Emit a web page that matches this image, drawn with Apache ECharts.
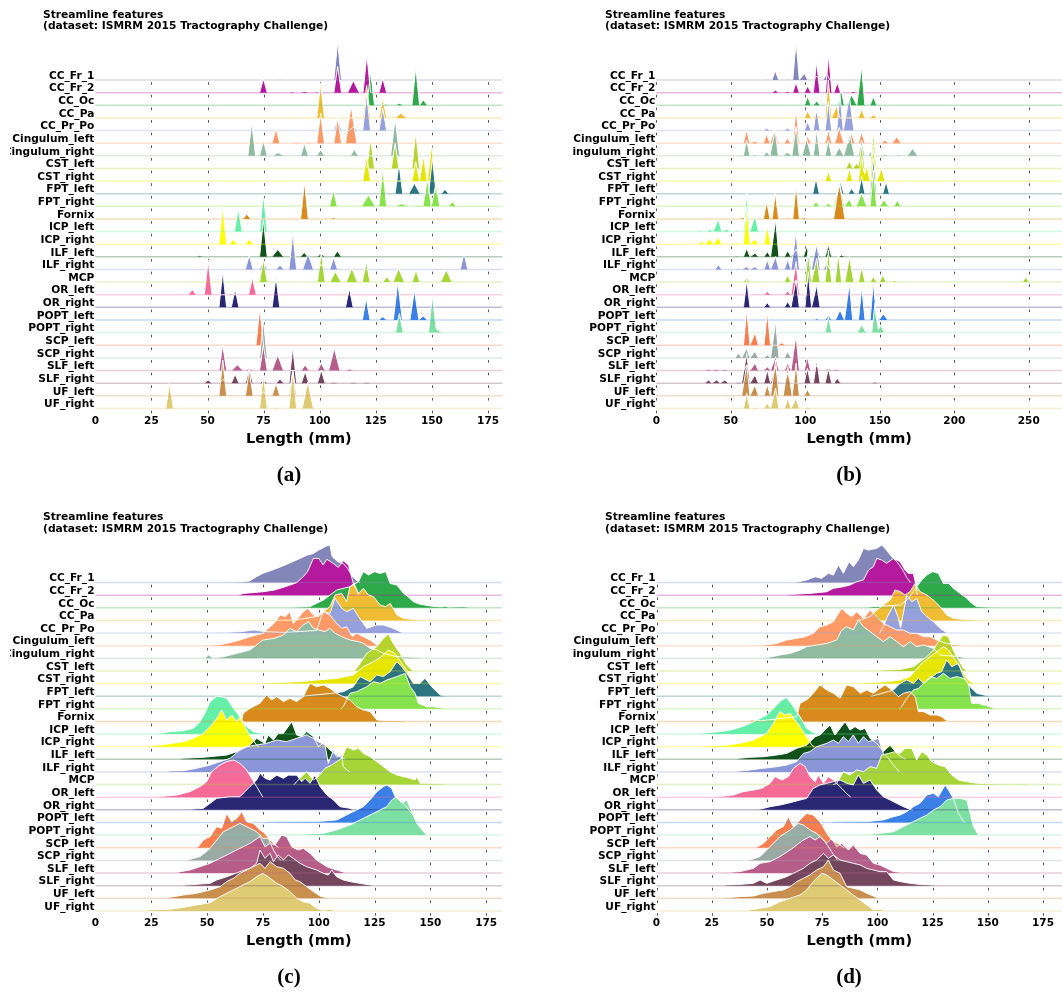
<!DOCTYPE html>
<html><head><meta charset="utf-8">
<script src="https://cdn.jsdelivr.net/npm/echarts@6/dist/echarts.min.js"></script>
<style>
html,body{margin:0;padding:0;background:#fff;width:1062px;height:996px;overflow:hidden}
.p{position:absolute;overflow:hidden}
</style></head><body>
<div id="pa" class="p" style="left:10px;top:0;width:521px;height:500px"></div>
<div id="pb" class="p" style="left:572px;top:0;width:490px;height:500px"></div>
<div id="pc" class="p" style="left:10px;top:502px;width:521px;height:494px"></div>
<div id="pd" class="p" style="left:572px;top:502px;width:490px;height:494px"></div>
<script>
const categories = ['CC_Fr_1','CC_Fr_2','CC_Oc','CC_Pa','CC_Pr_Po','Cingulum_left','Cingulum_right','CST_left','CST_right','FPT_left','FPT_right','Fornix','ICP_left','ICP_right','ILF_left','ILF_right','MCP','OR_left','OR_right','POPT_left','POPT_right','SCP_left','SCP_right','SLF_left','SLF_right','UF_left','UF_right'];
const colors = ['#8286b9','#b5199d','#2eaa4a','#efbc34','#96a0dc','#fd9a68','#8fbba0','#b4d52a','#e6e602','#2b7480','#87e34d','#d98a1d','#66efa8','#ffff00','#10521a','#8a96d8','#a6d537','#f66a97','#292673','#3a80e6','#7de0a2','#f77e4e','#9aaba6','#b65d8a','#74465e','#c98f4f','#decb74'];
const ticksAC = [0,25,50,75,100,125,150,175];
const ticksB = [0,50,100,150,200,250];
const ticksD = [0,25,50,75,100,125,150,175];
const xLabel = 'Length (mm)';
const titleText = 'Streamline features\n(dataset: ISMRM 2015 Tractography Challenge)';

// Panel (a): spike peaks [length mm, height in rows, optional half-width mm]
const peaksA = [
 [[82.3,0.05,2],[108,3.03]],
 [[74.9,1.1],[87.5,0.06,2],[93.2,0.1,2],[98.6,0.05,2],[108,2.06],[115,0.95,2.6],[121,2.98],[128.1,1.13]],
 [[122.7,2.66],[129.1,0.1,1.5],[135.5,0.15,2],[142.8,3.0],[146.2,0.42]],
 [[100.4,2.74],[108,0.05],[120.9,2.6],[128.1,1.56],[136.2,0.37,2.5]],
 [[108,1.05],[115,0.3],[120.9,2.95],[128.1,1.77]],
 [[80.5,1.16],[89.7,0.05,2],[95,0.05,2],[100.4,2.36],[108,2.04],[114,2.94,2.5]],
 [[69.7,2.69],[74.9,1.2],[81.5,0.25,2.5],[93.2,0.98],[100.4,0.5],[115.4,0.5],[133.6,2.96,2]],
 [[122.7,2.37],[133.6,1.98],[142.8,2.9]],
 [[120.9,2.06],[142.8,1.53],[146.2,2.06],[149.9,2.85]],
 [[135.3,2.4],[142.2,0.82,2.5],[150.2,2.8],[155.8,0.34]],
 [[106.1,1.29],[121.7,0.9,3],[128.1,3.0],[136.5,0.2,3],[144,0.1,2],[148,2.2],[151.8,1.8],[159.1,0.37]],
 [[67.5,0.4],[93.2,2.96],[106.1,0.1]],
 [[63.7,1.84],[74.9,2.95]],
 [[56.8,3.0],[61.5,0.39],[68.6,0.39]],
 [[46.5,0.08,2],[74.9,2.91],[81.3,0.58,2.6],[93.1,0.34],[100.6,0.26],[107.9,0.47]],
 [[68.6,1.14],[74.9,0.7],[82.3,0.35],[88,2.9],[94.8,1.28,2.4],[100.7,0.4],[106.2,0.96],[164.3,1.28]],
 [[74.9,1.88],[80.9,0.05],[100.7,2.4],[107,0.82,2.5],[114.3,1.09,2.5],[120.7,1.62],[129.9,0.43],[135.2,1.09,2.5],[142.9,0.96],[156.4,0.96,2.5]],
 [[43.2,0.42],[50.3,2.74],[60.2,0.05],[70,1.37]],
 [[56.8,2.83],[62.3,1.43],[80.5,2.4],[113.2,1.5]],
 [[109.5,0.05,2],[120.7,1.72],[128.1,0.26],[134.8,3.03,2],[142.2,2.37,2],[146.1,0.32]],
 [[135.5,1.53],[150.2,2.98],[152.5,0.4,2]],
 [[73.3,2.92]],
 [[74.9,3.0]],
 [[56.8,2.02],[63.3,0.44,2.5],[68.6,0.17],[74.9,2.02],[81.3,1.23,2.5],[93.5,0.44],[100.7,0.57],[106.5,1.75,2.5],[113.3,0.12]],
 [[50.3,0.25],[56.8,0.3],[62.3,0.7],[68.6,1.17],[74.9,0.25],[82.3,0.33],[88,2.88],[93.5,0.91],[100.7,1.04],[106.2,0.08],[115,0.05],[120.9,0.05]],
 [[56.8,2.83],[68.6,2.04],[74.9,0.33],[80.5,0.98],[88,2.04]],
 [[33.1,1.98],[74.9,2.7],[80.5,0.05],[88,2.95],[94.7,2.1,2.5]]
];

// Panel (b): spike peaks
const peaksB = [
 [[74.1,0.05],[79.9,0.74],[88,0.05],[93.8,3.03],[99.4,0.53],[107.6,0.3],[114.3,0.5]],
 [[79.9,0.2],[88,0.1],[93.8,0.8],[101.6,0.53],[107.6,2.45],[115.7,2.98],[121.5,0.8],[132.2,0.1]],
 [[101.6,0.69],[107.6,0.34],[124,1.27],[131.1,0.82,3.5],[137.8,3.06],[145.7,0.69]],
 [[101.6,0.55],[107.6,0.5],[115.5,3.0],[121,0.95],[137.8,0.69],[145.7,0.24]],
 [[74.1,0.18],[88,0.18],[101.6,0.71],[107.6,1.77],[115.5,2.3],[123.3,2.82],[129.6,2.69,3]],
 [[60.6,1.04],[66.2,0.15],[74.1,0.73],[79.7,1.17],[88,0.38],[93.8,2.76],[101.6,0.57],[115.5,1.04],[122.8,1.25,3],[131.1,0.78],[137.8,0.91],[153.5,0.25],[161.3,0.51,3]],
 [[60.6,1.24],[66.2,0.08],[74.1,0.32],[79.7,2.03],[88,0.26,3],[93.8,2.3],[100.9,1.37,3],[107.6,2.03],[115.5,1.24],[122.8,0.66,3],[130,1.77,3],[137.8,1.24],[144.5,0.45],[153.5,0.1],[162.4,0.08],[172,0.58,3.5]],
 [[129.6,0.6],[134.5,0.4],[137.8,1.85],[145.7,2.9]],
 [[115.5,0.74],[129.6,1.0],[137.8,1.93],[141.2,1.27],[145.7,2.85],[151.3,1.0]],
 [[107.2,1.21],[123.7,0.95],[131.1,0.42],[137.8,1.35],[145.7,2.8],[154.2,0.95]],
 [[107.2,0.37],[115.5,0.24],[122.8,1.95,3.5],[129.6,0.55],[137.8,1.03,3.5],[145.7,2.88],[152.8,0.5,3],[161.8,0.5]],
 [[58,0.1],[74.1,1.37],[79.9,2.03],[88,0.05],[93.8,2.69],[99.1,0.1],[122.8,2.95,3.8]],
 [[29.4,0.05],[36,0.18],[41.7,0.98],[47.3,0.18],[54,0.05],[60.7,3.03],[66.3,1.32]],
 [[30.5,0.2],[36,0.39],[41.7,0.54],[54,0.1],[60.7,2.97],[66.3,0.39],[74.5,1.44]],
 [[54,0.05],[60.7,0.67],[66.3,0.28],[74.5,0.41],[80.1,2.92],[88.2,0.49],[93.8,0.6],[100.9,0.81],[107.7,0.94],[115.5,0.94],[124.4,0.15]],
 [[41.7,0.36],[55.1,0.05],[60.7,0.22],[66.3,0.22],[74.5,0.75],[80.1,1.02],[88.2,0.8],[93.8,3.0],[102,1.54],[107.7,2.2],[114.4,0.49]],
 [[60.7,0.3],[66.3,0.05],[88.2,0.56],[102,2.28],[107.7,1.89],[115.5,2.54],[122.2,2.28],[129.6,2.02,3],[137.9,1.22],[145.7,0.43],[152,0.56],[159.8,0.1],[248,0.4]],
 [[74.5,0.25],[88.2,0.25],[93.8,2.62]],
 [[60.7,2.17],[74.5,0.37],[88.2,0.45],[93.8,2.17],[102,2.82],[107.7,1.77]],
 [[107.7,0.1],[115.5,0.4],[123.3,0.79,3],[129.6,2.9],[137.9,2.64],[145.7,3.0],[152.4,0.48,3]],
 [[115.5,1.27],[129.6,0.05],[137.9,0.61,3],[146.8,2.32],[150.5,0.6,2.5]],
 [[60.7,2.85],[66.3,1.0],[74.5,2.66],[84.2,0.2]],
 [[55.1,0.36],[60.7,0.76],[66.3,0.5],[74.5,0.23],[80.1,2.87],[88.2,0.5]],
 [[35,0.1],[40.5,0.1],[46.1,0.08],[60.7,0.44],[66.3,0.57],[74.5,0.3],[80.1,1.1],[88.2,0.57],[93.8,2.81],[101.4,1.05],[107.7,0.4],[115.5,0.18],[121.1,0.08]],
 [[35,0.25],[40.5,0.25],[46.1,0.25],[55.1,0.05],[60.7,2.36],[66.3,0.65],[74.5,1.04],[80.1,1.3],[88.2,0.8],[101.4,1.18],[107.7,1.84],[115.5,1.18],[121.5,0.39],[146.8,0.1]],
 [[47.3,0.05],[55.1,0.05],[60.7,2.44],[66.3,0.86],[74.5,0.86],[80.1,2.84],[88.2,2.31,3],[93.8,2.57],[101.4,0.51]],
 [[60.7,1.2],[66.3,0.05],[74.5,0.4],[80.1,1.6],[88.2,0.8],[93.8,0.8],[101.4,0.1]]
];

// Panel (c): profiles [length mm, height in rows]
const curvesC = [
 [[55,0],[62,0.03],[66,0.05],[69,0.12],[72,0.45],[75,0.73],[80,1.04],[85,1.39],[90,1.78],[95,2.18],[97.6,2.3],[100,2.57],[103.6,2.9],[105,2.97],[106,2.05],[108.5,1.65],[111,1.5],[113,1.1],[115,0.5],[117,0.15],[118.5,0]],
 [[64,0],[66.2,0.14],[75,0.27],[80,0.4],[85,0.67],[90,0.98],[93.1,1.46],[95,1.86],[97.6,2.91],[100,2.91],[102,2.39],[103.6,2.84],[106.6,2.5],[108.8,2.2],[111,2.73],[113.3,2.39],[115.5,0.93],[117,0.4],[117.8,0]],
 [[86,0],[88.6,0.03],[96,0.09],[99,0.35],[102,0.6],[105,1.0],[108,1.4],[114,1.67],[117.8,2.07],[120,2.86],[122.3,2.6],[125,2.86],[127.5,2.72],[130,2.86],[132,1.93],[135,1.8],[138,1.14],[140,0.88],[142.4,0.48],[145,0.3],[150,0.14],[155,0.06],[156.6,0.14],[158,0.04],[165,0.08],[168,0]],
 [[76,0],[88.6,0.02],[99,0.3],[102,0.69],[105,1.09],[107.3,2.01],[110.3,2.14],[112.5,1.48],[114,2.67],[115.8,2.93],[117.8,2.14],[120,2.54],[122.3,2.01],[124.5,1.88],[127.5,1.22],[130,1.09],[132,1.35],[135,0.43],[138,0.16],[144,0.03],[150,0]],
 [[53,0],[64.7,0.1],[70.7,0.24],[76.7,0.1],[85,0.05],[99,0.2],[102,1.69],[105,1.56],[107.3,2.75],[110.3,1.96],[112.5,1.69],[115.5,1.96],[117.8,1.3],[121.5,0.37],[126,0.64],[129,0.64],[132,0.45],[135,0.24],[137.6,0]],
 [[49,0],[54.3,0.05],[58.8,0.18],[64.7,0.45],[69.2,0.71],[75,0.98],[78.2,1.5],[80,1.77],[82.7,2.43],[85,2.3],[87.1,2.69],[88.6,1.77],[90.1,2.03],[92.4,2.56],[95,2.96],[97.6,2.43],[100,2.3],[102,2.69],[105,2.43],[108,1.77],[110.3,1.37],[112.5,1.5],[115,0.71],[117,0.98],[120,0.71],[123,0.45],[125,0.18],[126.5,0]],
 [[49,0],[50.6,0.26],[52.8,0.02],[57.3,0.13],[63.3,0.39],[69.2,0.66],[75,1.45],[80,1.58],[84.2,1.84],[87.1,2.37],[90.1,2.11],[93.1,2.64],[95.4,2.9],[97.6,2.37],[100,2.24],[102.8,2.11],[105,2.37],[107.3,1.98],[110.3,1.71],[114,1.45],[117.8,1.32],[120,1.19],[123,0.79],[126,0.66],[129,0.39],[135,0.13],[142.4,0.08],[148,0]],
 [[116,0],[117,0.2],[121.5,1.39],[126,1.92],[129,2.58],[131.2,2.92],[133.4,2.18],[136.4,1.39],[139.4,0.47],[141.7,0.07],[143,0]],
 [[75,0],[76.7,0.05],[91.6,0.15],[99,0.28],[108,0.41],[115.5,0.68],[120,1.34],[123,1.6],[126,1.87],[129,2.26],[131.2,2.66],[134.2,2.39],[137.2,1.6],[139.4,1.07],[141.7,0.28],[143,0]],
 [[93,0],[94.6,0.03],[105.8,0.23],[111,0.36],[115.5,0.75],[118.5,1.55],[123,1.15],[126,1.68],[129,1.55],[132,1.94],[135,2.74],[137.2,2.34],[139.4,1.81],[142.4,1.02],[145.4,1.02],[147.6,1.42],[150.6,0.75],[154.3,0.1],[157,0]],
 [[110,0],[111,0.17],[114,1.23],[117,1.36],[121.5,1.75],[124.5,2.15],[127.5,2.02],[130.5,2.28],[135,2.55],[138.7,2.81],[141,1.75],[143.2,1.23],[144.6,0.44],[148.4,0.17],[151.4,0.17],[155.8,0.04],[157,0]],
 [[65.3,0],[66.2,0.64],[69.2,1.04],[73.7,1.44],[76.7,2.1],[78.9,1.7],[81.2,1.96],[84.2,1.57],[87.1,1.83],[90.1,1.57],[93.1,1.96],[96.1,3.02],[99,2.75],[102,2.89],[105,2.62],[108,2.23],[111,1.96],[114,1.7],[117,1.17],[120,0.91],[123,0.78],[126,0.12],[129,0.06],[138,0.04],[140,0]],
 [[27,0],[28.9,0.06],[33.4,0.19],[39.4,0.27],[43.8,0.45],[46.8,0.98],[49,1.64],[51.3,2.56],[54.3,3.0],[56.5,2.96],[58.8,2.83],[61.8,2.04],[64.7,1.38],[67.7,0.59],[70.7,0.19],[73.7,0.06],[75,0]],
 [[23,0],[24.4,0.05],[31.9,0.2],[39.4,0.4],[43.8,0.66],[48.3,1.06],[51.3,1.59],[54.3,2.24],[56.5,2.9],[58.8,2.11],[61,2.51],[63.3,1.98],[64.7,2.37],[67.7,1.32],[69.9,0.66],[72.2,0.13],[73,0]],
 [[38,0],[39.4,0.08],[48.3,0.16],[58.8,0.34],[63.3,0.61],[69.2,1.13],[72.2,1.66],[75.9,1.27],[77.4,1.93],[79.7,1.53],[81.9,2.06],[84.2,2.06],[87.9,2.98],[90.1,1.93],[92.4,1.79],[94.6,2.2],[97.6,1.79],[99.8,1.0],[102,1.27],[105,0.74],[108,0.34],[111,0.08],[112,0]],
 [[32,0],[33.4,0.08],[39.4,0.1],[45.3,0.29],[51.3,0.55],[55.8,0.82],[60.3,1.08],[64.7,1.74],[67.7,2.0],[72.2,2.14],[76.7,2.27],[81.2,2.53],[85.6,2.4],[90.1,2.66],[94.6,2.93],[97.6,2.66],[99.8,2.4],[102.8,2.14],[104.3,0.68],[106.6,1.74],[108,1.21],[110.3,1.34],[111,0.42],[113,0.1],[114,0]],
 [[89,0],[90.1,0.24],[94.6,1.02],[97.6,0.36],[99.8,0.63],[102.8,1.29],[105.8,1.55],[110.3,2.08],[112.5,3.0],[115.5,2.74],[117.8,2.87],[120,2.47],[123,2.21],[126,1.81],[129,1.42],[132,1.02],[135,0.76],[138,0.63],[140.9,0.5],[143.1,0.36],[143.9,0.63],[145.4,0.1],[149.9,0.1],[155.8,0.05],[157,0]],
 [[28,0],[28.9,0.05],[36.4,0.17],[42.3,0.44],[46.8,0.84],[49.8,1.23],[52,2.02],[55.8,2.55],[58.8,2.82],[61.8,2.95],[64.7,2.68],[67.7,2.16],[69.9,1.5],[72.2,0.84],[74,0.3],[75,0]],
 [[40,0],[40.8,0.05],[48.3,0.12],[54.3,0.91],[60.3,1.04],[64.7,1.04],[69.2,1.84],[72.2,2.36],[73.7,2.89],[75.9,2.5],[78.2,2.36],[81.2,2.75],[84.2,2.5],[86.4,2.75],[90.1,2.75],[92.4,2.23],[93.9,2.5],[96.1,2.1],[98.3,2.75],[100.6,1.84],[103.6,1.18],[106.6,0.78],[109.5,0.25],[114,0.12],[115.5,0]],
 [[75,0],[76.7,0.03],[99,0.07],[108,0.2],[111,0.46],[114,0.73],[117,0.99],[120,1.25],[123,1.78],[126,2.44],[129,2.84],[130.5,2.97],[132.7,2.7],[134.2,2.04],[137.9,1.52],[142.4,0.59],[143.9,0.07],[145,0]],
 [[87,0],[88.6,0.02],[102,0.14],[108,0.41],[114,0.8],[118.5,1.2],[123,1.59],[127.5,1.99],[130.5,2.25],[132.7,2.78],[135,3.04],[137.2,2.52],[139.4,2.78],[141.7,1.86],[143.9,0.93],[146.9,0.28],[148.4,0]],
 [[45,0],[46.1,0.08],[48.3,0.61],[51.3,0.88],[54.3,1.67],[56.5,1.54],[58.8,2.72],[61,2.06],[63.3,2.33],[65.5,2.86],[67.7,2.06],[70.7,1.93],[73.7,1.41],[75.9,1.14],[78.2,0.61],[80.4,0.22],[82,0]],
 [[41,0],[42.3,0.08],[46.8,0.3],[50.6,0.82],[54.3,1.61],[57.3,2.27],[61.8,2.67],[64.7,2.93],[67.7,2.67],[72.2,2.27],[75,1.75],[77.4,1.75],[79.7,0.82],[81.5,0.3],[83,0]],
 [[36,0],[37.9,0.1],[42.3,0.24],[46.8,0.5],[51.3,0.77],[55.8,1.16],[60.3,1.56],[64.7,1.96],[69.2,2.35],[73.7,2.88],[75.9,2.08],[78.2,2.35],[80.4,2.22],[83.4,3.0],[85.6,2.88],[87.9,2.08],[90.8,1.82],[93.1,1.96],[96.1,1.56],[99,1.03],[103.6,0.5],[108,0.24],[111.8,0.03],[113,0]],
 [[39,0],[40.8,0.05],[51.3,0.18],[54.3,0.45],[58.8,0.71],[64.7,1.11],[69.2,1.37],[72.2,1.77],[73.7,2.82],[75.9,2.16],[78.2,2.56],[79.7,1.9],[81.9,2.43],[84.2,2.03],[86.4,2.43],[88.6,2.16],[91.6,1.77],[94.6,1.5],[99,1.24],[102,0.98],[104.3,0.84],[105.8,1.24],[108,0.71],[111,0.45],[114,0.32],[118.5,0.18],[123,0.05],[125,0]],
 [[32,0],[33.4,0.08],[39.4,0.26],[45.3,0.39],[51.3,0.66],[55.8,0.92],[58.8,1.32],[61.8,1.58],[64.7,1.98],[67.7,2.24],[70.7,2.5],[73.7,2.77],[75.9,2.37],[78.2,2.9],[81.2,2.5],[84.2,2.37],[87.1,1.98],[89.5,1.45],[91.6,1.32],[94.6,0.92],[97.6,0.53],[100.6,0.18],[103,0.05],[104,0]],
 [[23,0],[24.4,0.08],[33.4,0.13],[39.4,0.28],[45.3,0.47],[51.3,0.65],[55.8,1.13],[60.3,1.53],[64.7,1.92],[69.2,2.32],[72.2,2.71],[75,2.98],[78.2,2.58],[81.2,2.18],[84.2,1.92],[87.1,1.53],[90.1,1.0],[93.1,0.73],[96.1,0.6],[99,0.21],[102,0.02],[105,0.13],[107,0]]
];

// Panel (d): profiles [length mm, height in rows]
const curvesD = [
 [[62,0],[63.5,0.03],[68,0.2],[71.8,0.46],[74.8,0.33],[77.8,0.73],[80.1,0.59],[82.4,1.39],[84.6,0.73],[87.2,1.65],[89.1,1.25],[91.4,1.78],[93.7,2.7],[96,2.57],[99.7,2.7],[102,2.97],[103.5,2.7],[106.5,2.04],[109,1.6],[111.5,1.0],[113.3,0.4],[115,0]],
 [[59,0],[60.5,0.05],[69.5,0.14],[77.1,0.27],[80.1,0.54],[84.6,0.67],[87.6,0.8],[90.7,1.07],[93.7,1.2],[96,1.99],[98.2,2.25],[99.7,2.91],[102,2.78],[104.2,2.52],[107.3,2.91],[110.3,2.65],[112.5,1.99],[114,1.72],[116.3,1.72],[117.5,0.8],[118,0]],
 [[94,0],[95.2,0.03],[98.2,0.09],[110.3,0.22],[113.3,0.6],[116.3,1.27],[117.8,1.67],[120.1,2.2],[122.4,2.59],[125,2.86],[127.6,2.73],[129.9,1.93],[132.2,1.93],[134.4,1.54],[137.5,1.14],[140.5,0.75],[142.7,0.35],[145,0.09],[152.5,0.03],[155,0]],
 [[91,0],[92.2,0.03],[96.7,0.3],[99.7,0.82],[102.7,1.22],[105.8,1.61],[108,2.41],[110.3,2.28],[112.5,2.01],[114.8,2.28],[117.1,2.93],[119.3,2.28],[122.4,2.01],[125.4,1.61],[128.4,1.09],[131.4,0.43],[134.4,0.16],[139,0.08],[143.5,0.03],[145,0]],
 [[101,0],[102.7,0.5],[104.2,1.16],[107.3,2.22],[109.5,1.2],[110.5,0.4],[113.3,3.0],[115.6,2.48],[117.8,2.74],[120.1,1.69],[122.4,1.29],[125.4,0.9],[128.4,0.37],[131.4,0.03],[132,0]],
 [[48,0],[49.1,0.05],[54.4,0.18],[58.9,0.45],[63.5,0.58],[67.3,0.71],[71,0.98],[74,1.5],[77.1,1.64],[80.1,1.9],[82.4,2.56],[83.9,2.96],[86.1,2.56],[88.4,2.3],[90.7,2.69],[93.7,2.16],[96.7,2.82],[99.7,2.3],[102.7,1.77],[105.8,1.5],[108.8,1.24],[111.8,1.24],[114.8,0.98],[117.8,0.98],[120.9,0.71],[123.9,0.71],[126.9,0.45],[131.4,0.18],[136,0.05],[138,0]],
 [[48,0],[49.9,0.05],[55.9,0.26],[60.5,0.39],[65,0.66],[68,0.92],[72.5,1.05],[77.1,1.18],[81.6,1.45],[83.9,2.24],[86.1,2.5],[89.1,2.24],[91.4,3.03],[93.7,2.5],[96.7,2.11],[99.7,1.71],[102.7,1.32],[105.8,1.71],[108.8,1.32],[111.8,0.92],[114.8,1.32],[117.8,0.92],[120.9,1.05],[125.4,0.79],[128.4,0.26],[137.5,0.13],[141,0]],
 [[97,0],[98.2,0.03],[110.3,0.12],[116.3,0.34],[122.4,1.13],[125.4,1.66],[127.6,2.32],[129.9,2.85],[132.2,2.71],[134.4,1.66],[136.7,0.87],[139,0.21],[140.5,0]],
 [[92,0],[93.7,0.05],[104.2,0.15],[110.3,0.28],[114.8,0.55],[119.3,1.46],[123.9,2.13],[126.9,2.52],[129.9,2.92],[132.2,2.66],[135.2,1.87],[138.2,1.07],[140.5,0.41],[142.7,0.07],[144,0]],
 [[97,0],[98.2,0.03],[107.3,0.49],[110.3,1.02],[113.3,1.28],[116.3,1.02],[118.6,1.42],[120.9,1.02],[123.9,1.42],[126.9,1.81],[129.1,1.94],[131.4,2.87],[133.7,2.34],[136.7,2.6],[139,1.55],[142,0.75],[145,0.23],[149.5,0.04],[151,0]],
 [[110,0],[111,0.17],[113.3,0.83],[116.3,1.49],[118.6,1.62],[120.9,2.02],[123.9,2.55],[126.9,2.41],[129.9,2.81],[132.9,2.41],[135.9,2.55],[139,2.41],[141.2,2.02],[142.7,0.44],[145.8,0.44],[148,0.3],[151,0.17],[153,0]],
 [[42,0],[43.1,0.1],[45.4,0.1],[47,0.05],[63.5,0.38],[65,1.44],[68,1.7],[71,2.23],[74,2.89],[77.1,2.49],[80.1,2.23],[83.1,1.83],[86.1,2.89],[89.1,2.75],[92.2,2.23],[95.2,2.49],[98.2,2.23],[101.2,2.62],[103.5,2.89],[106.5,2.49],[109.5,1.96],[111.8,2.23],[114.8,2.36],[117.1,1.96],[118.6,0.78],[120.9,0.78],[123.9,0.51],[126.9,0.51],[129.1,0.38],[131.4,0.06],[132,0]],
 [[18,0],[19.7,0.05],[25.7,0.14],[31.8,0.27],[36.3,0.45],[40.8,0.72],[45.4,1.11],[49.9,1.51],[53.7,2.17],[56.7,2.7],[58.9,2.9],[62,2.17],[65,1.37],[68,0.45],[71,0.11],[73,0]],
 [[21,0],[22.7,0.05],[31.8,0.13],[37.8,0.27],[43.9,0.53],[49.9,1.06],[52.9,1.85],[55.9,2.77],[58.2,2.51],[60.5,2.64],[62.7,2.11],[65,1.59],[68,0.79],[70.3,0.13],[71.5,0]],
 [[36,0],[37.8,0.08],[42.3,0.16],[48.4,0.21],[54.4,0.34],[58.9,0.47],[63.5,0.87],[68,1.13],[71.8,1.79],[74,1.93],[76.3,2.32],[78.6,2.72],[80.8,1.93],[83.1,2.45],[85.4,2.98],[87.6,2.32],[89.9,2.59],[92.2,2.32],[94.4,2.45],[96.7,1.66],[99.7,1.27],[102.7,0.61],[105.8,1.13],[108.8,0.47],[111.8,0.08],[113,0]],
 [[36,0],[37.8,0.08],[42.3,0.16],[48.4,0.29],[54.4,0.42],[58.9,0.55],[63.5,0.82],[66.5,1.47],[69.5,1.61],[72.5,2.0],[77.1,2.27],[80.1,2.53],[82.4,2.27],[84.6,2.79],[86.9,2.4],[89.1,2.93],[91.4,2.27],[93.7,2.79],[96,2.4],[98.2,2.53],[100.5,2.66],[102.7,1.47],[105,1.08],[107.3,0.55],[110,0]],
 [[80,0],[81.6,0.1],[84.6,1.02],[87.6,0.76],[90.7,1.16],[93.7,1.02],[96.7,1.42],[99.7,1.29],[102,2.34],[105,2.47],[108,2.61],[110.3,2.47],[112.5,2.87],[115.6,2.87],[117.8,1.95],[120.1,2.61],[122.4,2.34],[124.6,1.82],[127.6,1.55],[130.7,1.42],[133.7,0.76],[136.7,0.36],[140.5,0.23],[145,0.1],[152.5,0.05],[160,0.03],[166.9,0.05],[168,0]],
 [[27,0],[28.8,0.05],[34.8,0.17],[39.3,0.44],[43.9,0.57],[47.6,0.7],[51.4,1.1],[53.7,1.63],[56.7,1.36],[59.7,1.63],[62,2.29],[65,2.68],[67.3,2.42],[69.5,1.63],[71.8,1.23],[73.3,1.76],[75.6,1.1],[77.8,1.63],[80.1,1.36],[83.1,0.83],[86,0.3],[88,0]],
 [[45,0],[46.9,0.05],[51.4,0.25],[55.9,0.38],[60.5,0.57],[65,0.78],[68,0.91],[71,1.7],[74,1.97],[77.1,2.1],[80.1,2.23],[83.1,2.36],[86.1,2.1],[89.1,1.97],[91.4,2.76],[93.7,2.1],[96.7,2.36],[99.7,1.57],[102.7,1.04],[105.8,0.78],[108.8,0.51],[111.8,0.25],[114.8,0.04],[116,0]],
 [[79,0],[80.1,0.03],[95.2,0.07],[102.7,0.2],[107.3,0.46],[110.3,0.59],[113.3,0.86],[116.3,1.25],[119.3,1.52],[122.4,2.18],[125.4,2.31],[127.6,2.04],[130.7,2.97],[132.2,2.57],[134.4,1.91],[136.7,0.73],[139,0.07],[140,0]],
 [[94,0],[95.2,0.03],[101.2,0.14],[107.3,0.27],[110.3,0.54],[113.3,0.8],[116.3,1.07],[119.3,1.33],[122.4,1.59],[125.4,1.99],[128.4,2.25],[131.4,2.78],[134.4,2.91],[137.5,2.91],[140.5,2.78],[142,1.73],[143.5,0.67],[145.8,0]],
 [[44,0],[45.4,0.03],[48.4,0.35],[50.6,0.75],[54.4,1.41],[57.4,1.67],[59.7,2.46],[62,1.67],[65,2.2],[68,2.72],[71,2.59],[74,2.06],[77.1,1.14],[79.3,0.61],[83.1,0.22],[85,0]],
 [[41,0],[42.3,0.03],[46.9,0.3],[51.4,1.09],[55.9,1.88],[60.5,2.41],[64.2,2.93],[66.5,2.8],[69.5,2.41],[72.5,2.14],[75.6,1.61],[77.8,1.09],[80,0.5],[82,0]],
 [[30,0],[31.8,0.03],[37.8,0.11],[43.9,0.37],[46.9,0.77],[51.4,0.9],[55.9,1.3],[60.5,1.82],[63.5,2.22],[66.5,2.61],[69.5,2.88],[71.8,2.61],[74,2.88],[77.1,2.35],[79.3,2.74],[81.6,2.08],[83.9,2.35],[86.9,1.82],[89.1,2.22],[92.2,1.56],[95.2,1.42],[98.2,0.77],[101.2,0.63],[104.2,0.37],[107.3,0.11],[110.3,0.05],[116.3,0]],
 [[30,0],[31.8,0.05],[37.8,0.1],[43.9,0.18],[46.9,0.45],[49.9,0.18],[54.4,0.45],[58.9,0.71],[63.5,1.11],[66.5,1.37],[69.5,1.77],[72.5,2.03],[75.6,2.56],[77.8,2.16],[80.1,2.43],[83.1,2.03],[86.1,1.9],[89.1,1.77],[92.2,1.64],[95.2,1.37],[98.2,1.24],[101.2,1.11],[104.2,1.11],[107.3,0.45],[110.3,0.32],[114.8,0.18],[119.3,0.1],[125.4,0.03],[127,0]],
 [[30,0],[31.8,0.05],[37.8,0.13],[43.9,0.18],[48.4,0.39],[52.9,0.53],[57.4,0.66],[60.5,0.92],[63.5,1.32],[66.5,1.58],[69.5,1.85],[72.5,2.24],[75.6,2.5],[77.8,3.03],[80.1,2.24],[83.1,1.98],[86.1,0.92],[89.1,0.79],[92.2,0.66],[95.2,0.39],[98.2,0.18],[100,0]],
 [[41,0],[42.3,0.08],[46.9,0.21],[51.4,0.34],[55.9,0.73],[60.5,1.0],[65,1.26],[68,1.66],[71,2.32],[74.8,2.98],[77.1,2.84],[80.1,2.45],[83.1,2.05],[86.1,1.66],[89.1,1.26],[92.2,0.87],[95.2,0.47],[98.2,0.07],[101.2,0.13],[103,0]]
];

// turn peak lists into piecewise-linear profiles (narrow kernel per peak)
function spikeProfile(peaks, hw) {
  const xs = [];
  peaks.forEach(p => { const w = p[2] || hw; xs.push(p[0]-w, p[0], p[0]+w); });
  xs.sort((a,b)=>a-b);
  const out = [];
  xs.forEach(x => {
    let h = 0;
    peaks.forEach(p => { const w = p[2] || hw; const d = Math.abs(x-p[0]); if (d < w) h += p[1]*(1-d/w); });
    out.push([x, h]);
  });
  return out;
}

const FONT = '"DejaVu Sans", Verdana, sans-serif';
const N = categories.length;

function makePanel(id, cfg) {
  const chart = echarts.init(document.getElementById(id), null, {renderer:'canvas'});
  const series = [];
  const dash = [];
  cfg.ticks.forEach(t => { if (t > 0 || cfg.zeroDash) for (let r = 0; r < N; r++) dash.push([t, r]); });
  series.push({
    type:'custom', data:dash, clip:false, silent:true, z:1,
    renderItem:(params, api) => {
      const c = api.coord([api.value(0), api.value(1)]);
      const x = Math.round(c[0]) + 0.5;
      return {type:'line', shape:{x1:x, y1:c[1]+2.2, x2:x, y2:c[1]+4.8}, style:{stroke:'#555', lineWidth:1}};
    }
  });
  categories.forEach((name, i) => {
    const base = N - 1 - i;
    const prof = cfg.curves[i];
    series.push({
      type:'line', name:name, data:prof.map(q => [q[0], base + q[1]]), symbol:'none', silent:true, clip:false,
      lineStyle:{color:'#ffffff', width:1, opacity:0.95},
      areaStyle:{color:colors[i], opacity:1, origin:base}, z:2
    });
    series.push({
      type:'line', data:[[0, base],[cfg.xMax, base]], symbol:'none', silent:true, clip:false,
      lineStyle:{color:colors[i], width:1.5, opacity:0.3}, z:2
    });
  });
  chart.setOption({
    animation:false,
    backgroundColor:'#ffffff',
    grid:{left:cfg.gridLeft, top:cfg.gridTop, width:cfg.gridWidth, height:378.9, containLabel:false, outerBoundsMode:'none'},
    xAxis:{
      type:'value', min:0, max:cfg.xMax, interval:cfg.interval,
      axisLine:{show:false}, axisTick:{show:false}, splitLine:{show:false},
      axisLabel:{color:'#000', fontFamily:FONT, fontWeight:'bold', fontSize:10.5, margin:7, showMaxLabel:false},
      name:xLabel, nameLocation:'middle', nameGap:15,
      nameTextStyle:{color:'#000', fontFamily:FONT, fontWeight:'bold', fontSize:14.5}
    },
    yAxis:{
      type:'value', min:0, max:30, interval:1,
      axisLine:{show:false}, axisTick:{show:false}, splitLine:{show:false},
      axisLabel:{
        color:'#000', fontFamily:FONT, fontWeight:'bold', fontSize:10.6, margin:1,
        verticalAlign:'bottom', lineHeight:8,
        formatter:v => (v <= N - 1 ? categories[N - 1 - v] : '')
      }
    },
    graphic:[
      {type:'text', x:33, y:cfg.titleY, style:{text:titleText, font:'bold 10.7px ' + FONT, fill:'#000', lineHeight:11.7}},
      {type:'text', x:cfg.capX, y:476, style:{text:cfg.caption, font:'bold 21px "Liberation Serif", "Times New Roman", serif', fill:'#000', align:'center', verticalAlign:'middle'}}
    ],
    series:series
  });
}

makePanel('pa', {ticks:ticksAC, zeroDash:false, interval:25, xMax:181.4, gridLeft:85.3, gridWidth:407.1, gridTop:29.5, titleY:9, capX:279, caption:'(a)', curves:peaksA.map(p => spikeProfile(p, 1.7))});
makePanel('pb', {ticks:ticksB, zeroDash:true, interval:50, xMax:272.3, gridLeft:84.3, gridWidth:405.7, gridTop:29.5, titleY:9, capX:277, caption:'(b)', curves:peaksB.map(p => spikeProfile(p, 2.2))});
makePanel('pc', {ticks:ticksAC, zeroDash:false, interval:25, xMax:182.1, gridLeft:85.5, gridWidth:406.5, gridTop:30, titleY:9.5, capX:279, caption:'(c)', curves:curvesC});
makePanel('pd', {ticks:ticksD, zeroDash:true, interval:25, xMax:183.6, gridLeft:84.5, gridWidth:405.5, gridTop:30, titleY:9.5, capX:277, caption:'(d)', curves:curvesD});
</script>
</body></html>
